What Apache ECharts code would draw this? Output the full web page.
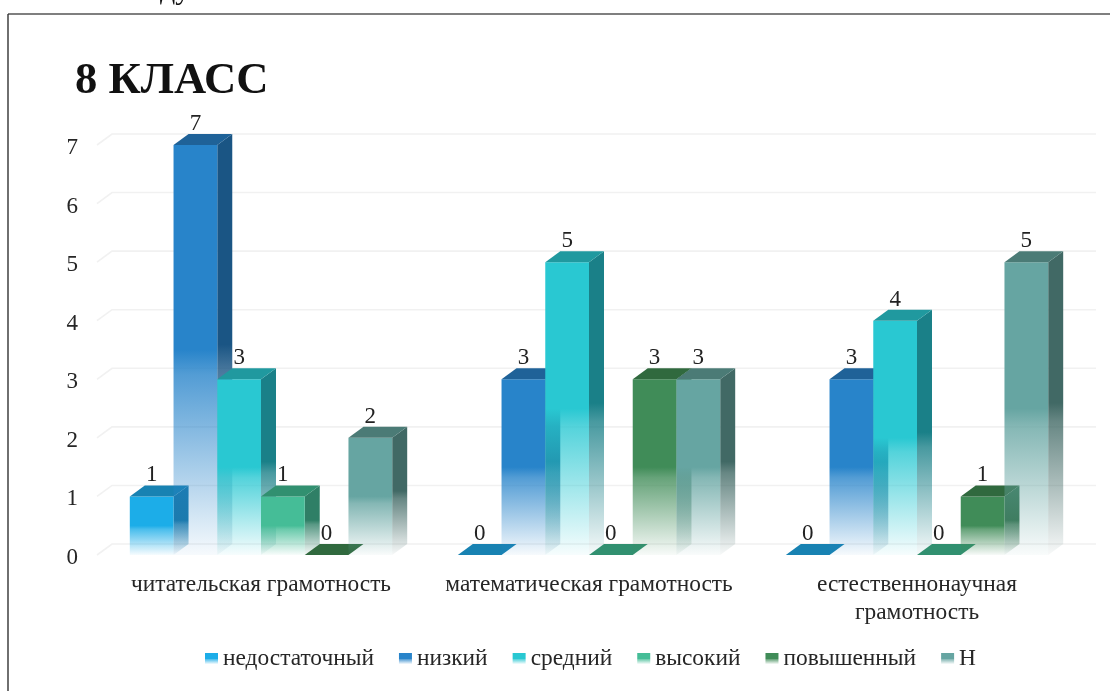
<!DOCTYPE html>
<html>
<head>
<meta charset="utf-8">
<style>html,body{margin:0;padding:0;background:#fff;}#c{width:1110px;height:691px;}</style>
<script src="https://cdn.jsdelivr.net/npm/echarts@6/dist/echarts.min.js"></script>
</head>
<body>
<div id="c"></div>
<script>
const categories = ['читательская грамотность', 'математическая грамотность', 'естественнонаучная\nграмотность'];
const seriesNames = ['недостаточный', 'низкий', 'средний', 'высокий', 'повышенный', 'Н'];
const nedostatochny = [1, 0, 0];
const nizky = [7, 3, 3];
const sredny = [3, 5, 4];
const vysoky = [1, 0, 0];
const povyshenny = [0, 3, 1];
const absent = [2, 3, 5];
const yTicks = [0, 1, 2, 3, 4, 5, 6, 7];
const seriesValues = [nedostatochny, nizky, sredny, vysoky, povyshenny, absent];
const frontColors = ['28,173,232', '40,132,202', '41,200,210', '69,189,151', '64,140,88', '102,165,162'];
const sideColors = ['24,120,168', '26,85,132', '26,128,136', '47,127,102', '50,112,75', '65,105,101'];
const topColors = ['24,130,178', '31,98,152', '32,153,159', '49,144,112', '48,105,62', '75,123,118'];

const FONT = '"Liberation Serif", serif';
const DX = 15, DY = -11;

function fade(rgb) {
  return {
    type: 'linear', x: 0, y: 0, x2: 0, y2: 1,
    colorStops: [
      { offset: 0, color: 'rgba(' + rgb + ',1)' },
      { offset: 0.5, color: 'rgba(' + rgb + ',1)' },
      { offset: 0.56, color: 'rgba(' + rgb + ',0.8)' },
      { offset: 1, color: 'rgba(' + rgb + ',0.04)' }
    ]
  };
}

function barRenderer(idx) {
  return function (params, api) {
    const catIdx = api.value(0);
    const val = api.value(1);
    const base = api.coord([catIdx, 0]);
    const topP = api.coord([catIdx, val]);
    const bandW = api.size([1, 0])[0];
    const barW = bandW * 0.8 / 6;
    const x0 = base[0] - 3 * barW + idx * barW;
    const x1 = x0 + barW;
    const y0 = base[1];
    const y1 = topP[1];
    const children = [];
    if (val > 0) {
      children.push({
        type: 'polygon',
        shape: { points: [[x1, y1], [x1 + DX, y1 + DY], [x1 + DX, y0 + DY], [x1, y0]] },
        style: { fill: fade(sideColors[idx]) }
      });
      children.push({
        type: 'rect',
        shape: { x: x0, y: y1, width: barW, height: y0 - y1 },
        style: { fill: fade(frontColors[idx]) }
      });
    }
    children.push({
      type: 'polygon',
      shape: { points: [[x0, y1], [x0 + DX, y1 + DY], [x1 + DX, y1 + DY], [x1, y1]] },
      style: { fill: 'rgb(' + topColors[idx] + ')' }
    });
    children.push({
      type: 'text',
      z2: 100,
      style: {
        text: String(val), x: (x0 + x1) / 2, y: y1 - 21,
        align: 'center', verticalAlign: 'middle',
        font: '23px ' + FONT, fill: '#222'
      }
    });
    return { type: 'group', children: children };
  };
}

function wallRenderer(params, api) {
  const v = api.value(0);
  const a = api.coord([0, v]);
  const b = api.coord([2, v]);
  const band = api.size([1, 0])[0];
  const left = a[0] - band / 2;
  const right = b[0] + band / 2;
  return {
    type: 'polyline',
    shape: { points: [[left, a[1]], [left + DX, a[1] + DY], [right + DX, a[1] + DY]] },
    style: { fill: 'none', stroke: '#f1f1f1', lineWidth: 1.6 }
  };
}

const series = [{
  type: 'custom', name: 'walls', silent: true, z: 1,
  renderItem: wallRenderer,
  data: yTicks.map(t => [t]),
  encode: { y: 0 },
  clip: false
}];
seriesNames.forEach(function (name, i) {
  series.push({
    type: 'custom', name: name, z: 2 + i,
    renderItem: barRenderer(i),
    data: seriesValues[i].map((v, c) => [c, v]),
    encode: { x: 0, y: 1 },
    itemStyle: { color: fade(frontColors[i]) },
    clip: false
  });
});

const chart = echarts.init(document.getElementById('c'), null, { renderer: 'canvas' });
chart.setOption({
  animation: false,
  backgroundColor: '#fff',
  grid: { left: 97, right: 29, top: 145, bottom: 136, containLabel: false },
  title: {
    text: '8 КЛАСС', left: 70, top: 54,
    textStyle: { fontFamily: FONT, fontSize: 44.6, fontWeight: 'bold', color: '#111' }
  },
  legend: {
    left: 200, top: 642, itemWidth: 13, itemHeight: 11, itemGap: 25,
    icon: 'rect',
    data: seriesNames,
    textStyle: { fontFamily: FONT, fontSize: 23.4, color: '#262626', padding: [0, 0, 0, 0] }
  },
  xAxis: {
    type: 'category', data: categories,
    axisLine: { show: false }, axisTick: { show: false }, splitLine: { show: false },
    axisLabel: {
      fontFamily: FONT, fontSize: 23.4, color: '#262626', margin: 16, lineHeight: 28, interval: 0
    }
  },
  yAxis: {
    type: 'value', min: 0, max: 7, interval: 1,
    axisLine: { show: false }, axisTick: { show: false }, splitLine: { show: false },
    axisLabel: { fontFamily: FONT, fontSize: 23, color: '#262626', margin: 19, verticalAlign: 'top', lineHeight: 6 }
  },
  graphic: [
    { type: 'line', shape: { x1: 8, y1: 14, x2: 1110, y2: 14 }, style: { stroke: '#555', lineWidth: 1.6 }, silent: true },
    { type: 'line', shape: { x1: 8, y1: 14, x2: 8, y2: 691 }, style: { stroke: '#333', lineWidth: 1.4 }, silent: true },
    { type: 'text', left: 160, top: -24, silent: true, style: { text: 'ду', font: '30px ' + FONT, fill: '#111' } }
  ],
  series: series
});
</script>
</body>
</html>
